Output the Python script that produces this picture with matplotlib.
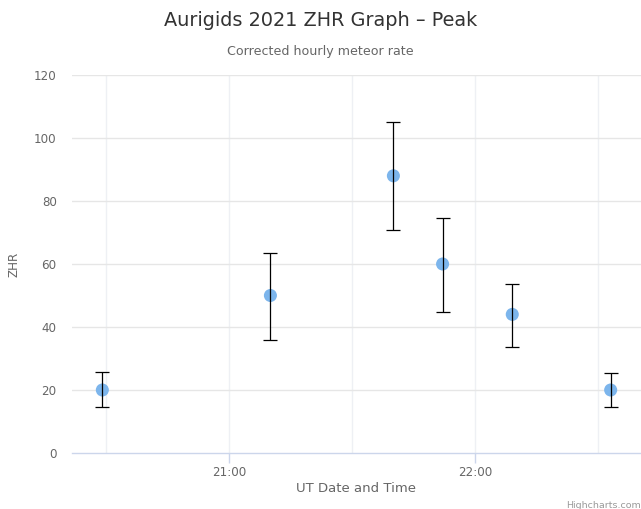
import matplotlib
matplotlib.use("Agg")
import matplotlib.pyplot as plt
from matplotlib.ticker import FixedLocator, FuncFormatter

# ---- data ----
times = ["20:29", "21:10", "21:40", "21:52", "22:09", "22:33"]
zhr = [20, 50, 88, 60, 44, 20]
zhr_low = [14.7, 36.0, 70.8, 44.9, 33.8, 14.7]
zhr_high = [25.7, 63.6, 105.1, 74.7, 53.6, 25.4]
x_tick_labels = ["21:00", "22:00"]
y_ticks = [0, 20, 40, 60, 80, 100, 120]


def to_min(s):
    h, m = s.split(":")
    return (int(h) - 20) * 60 + int(m)


xs = [to_min(t) for t in times]
yerr = [[v - lo for v, lo in zip(zhr, zhr_low)],
        [hi - v for v, hi in zip(zhr, zhr_high)]]

W, H = 641, 509
fig = plt.figure(figsize=(W / 100, H / 100), dpi=100)
plt.rcParams['font.family'] = ['DejaVu Sans']

left, right, top, bottom = 72, 641, 75, 453
ax = fig.add_axes([left / W, 1 - bottom / H, (right - left) / W, (bottom - top) / H])

ax.set_xlim(21.6, 160.4)
ax.set_ylim(0, 120)

# gridlines
for m in [30, 60, 90, 120, 150]:
    ax.axvline(m, color="#eef0f4", lw=1, zorder=0)
for y in y_ticks[1:]:
    ax.axhline(y, color="#e6e6e6", lw=1, zorder=0)

ax.scatter(xs, zhr, s=9.4 ** 2, color="#7cb5ec", edgecolors="none", zorder=2)
ax.errorbar(xs, zhr, yerr=yerr, fmt="none", ecolor="#000000", elinewidth=0.9,
            capsize=5, capthick=0.9, zorder=3)

for s in ["top", "right", "left"]:
    ax.spines[s].set_visible(False)
ax.spines["bottom"].set_color("#ccd6eb")
ax.spines["bottom"].set_linewidth(1)

ax.xaxis.set_major_locator(FixedLocator([to_min(t) for t in x_tick_labels]))
ax.xaxis.set_major_formatter(FuncFormatter(lambda v, p: "%d:%02d" % (20 + int(v) // 60, int(v) % 60)))
ax.tick_params(axis="x", colors="#ccd6eb", length=7, width=1, labelcolor="#666666",
               labelsize=8.6, pad=2)
ax.set_yticks(y_ticks)
ax.tick_params(axis="y", length=0, labelcolor="#666666", labelsize=8.6, pad=11)

fig.text(0.5, 1 - 20 / H, "Aurigids 2021 ZHR Graph – Peak", ha="center", va="center",
         fontsize=13.9, color="#333333")
fig.text(0.5, 1 - 51 / H, "Corrected hourly meteor rate", ha="center", va="center",
         fontsize=9.1, color="#666666")
fig.text(14 / W, 1 - 264 / H, "ZHR", rotation=90, ha="center", va="center",
         fontsize=8.6, color="#666666")
fig.text((left + right) / 2 / W, 1 - 488 / H, "UT Date and Time", ha="center", va="center",
         fontsize=9.5, color="#666666")
fig.text(1.0, 1 - 505 / H, "Highcharts.com", ha="right", va="center",
         fontsize=6.8, color="#999999")

fig.savefig("out.png", dpi=100)
